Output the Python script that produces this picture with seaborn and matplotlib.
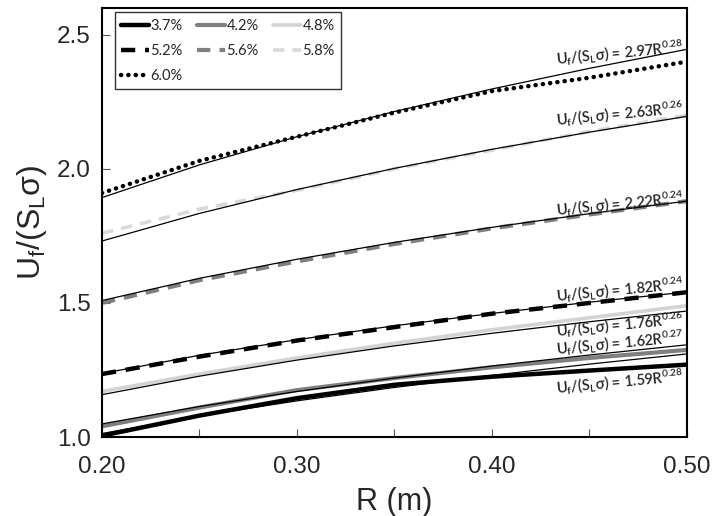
import numpy as np
import pandas as pd
import matplotlib
matplotlib.use("Agg")
import matplotlib.pyplot as plt
import seaborn as sns
from matplotlib.ticker import MultipleLocator, FormatStrFormatter

# radius (m)
R = [0.20, 0.25, 0.30, 0.35, 0.40, 0.45, 0.50]

# measured U_f/(S_L sigma) per H2 concentration
labels = ["3.7%", "4.2%", "4.8%", "5.2%", "5.6%", "5.8%", "6.0%"]
u37 = [1.005, 1.080, 1.145, 1.195, 1.225, 1.248, 1.270]
u42 = [1.040, 1.110, 1.175, 1.220, 1.260, 1.295, 1.325]
u48 = [1.170, 1.235, 1.295, 1.350, 1.400, 1.445, 1.490]
u52 = [1.235, 1.300, 1.360, 1.410, 1.460, 1.500, 1.540]
u56 = [1.500, 1.585, 1.655, 1.720, 1.778, 1.830, 1.880]
u58 = [1.760, 1.850, 1.920, 2.000, 2.070, 2.140, 2.200]
u60 = [1.910, 2.030, 2.120, 2.210, 2.290, 2.340, 2.400]

# power-law fit curves (thin black lines) read along R
fit297 = [1.893, 2.015, 2.120, 2.214, 2.298, 2.375, 2.446]
fit263 = [1.731, 1.834, 1.923, 2.002, 2.073, 2.137, 2.196]
fit222 = [1.509, 1.592, 1.663, 1.726, 1.782, 1.833, 1.880]
fit182 = [1.237, 1.305, 1.363, 1.415, 1.461, 1.503, 1.541]
fit176 = [1.158, 1.227, 1.287, 1.340, 1.387, 1.430, 1.470]
fit162 = [1.049, 1.114, 1.170, 1.220, 1.265, 1.306, 1.344]
fit159 = [1.013, 1.079, 1.135, 1.185, 1.230, 1.272, 1.310]
fit_text = ["2.97R$\\mathregular{^{0.28}}$", "2.63R$\\mathregular{^{0.26}}$",
            "2.22R$\\mathregular{^{0.24}}$", "1.82R$\\mathregular{^{0.24}}$",
            "1.76R$\\mathregular{^{0.26}}$", "1.62R$\\mathregular{^{0.27}}$",
            "1.59R$\\mathregular{^{0.28}}$"]
# baseline height of each equation label at its right end
text_y = [2.434, 2.206, 1.871, 1.551, 1.420, 1.353, 1.206]

sns.set_style("ticks")
plt.rcParams['font.family'] = ['Liberation Sans', 'DejaVu Sans']

fig = plt.figure(figsize=(7.13, 5.16), dpi=100)
ax = fig.add_axes([0.143, 0.153, 0.8205, 0.8315])

series = [u37, u42, u48, u52, u56, u58, u60]
colors = ["black", "#7f7f7f", "#d3d3d3", "black", "#7f7f7f", "#d9d9d9", "black"]
widths = [3.2, 3.0, 2.6, 3.2, 3.0, 2.6, 3.2]
styles = ["-", "-", "-", (0, (3.2, 2.2)), (0, (3.2, 2.2)), (0, (3.2, 2.2)), (0, (0.05, 1.6))]
lines = {}
for lab, vals, c, w, ls in zip(labels, series, colors, widths, styles):
    df = pd.DataFrame({"R": R, "U": vals})
    sns.lineplot(data=df, x="R", y="U", ax=ax, color=c, lw=w, linestyle=ls,
                 dash_capstyle="round" if lab == "6.0%" else "butt")
    lines[lab] = ax.lines[-1]

fits = [fit297, fit263, fit222, fit182, fit176, fit162, fit159]
for f in fits:
    sns.lineplot(x=R, y=f, ax=ax, color="black", lw=0.9)

# fit equation labels
for t, ty in zip(fit_text, text_y):
    ax.text(0.4985, ty, "$\\mathregular{U_f/(S_L}$σ$\\mathregular{)}$ = " + t,
            ha="right", va="baseline", rotation=5.5, rotation_mode="anchor",
            fontsize=10.5, fontweight="semibold", family=["Lato", "DejaVu Sans"])

order = ["3.7%", "5.2%", "6.0%", "4.2%", "5.6%", "4.8%", "5.8%"]
leg = ax.legend([lines[k] for k in order], order, ncol=3, loc="upper left",
                bbox_to_anchor=(0.022, 0.99), frameon=True, fancybox=False,
                edgecolor="black", handlelength=1.9,
                handletextpad=0.1, columnspacing=1.0, labelspacing=0.75,
                borderpad=0.45, borderaxespad=0,
                prop={"family": ["Lato", "DejaVu Sans"], "size": 10.5})
leg.get_frame().set_linewidth(1.0)

ax.set_xlim(0.20, 0.50)
ax.set_ylim(1.0, 2.6)
ax.xaxis.set_major_locator(MultipleLocator(0.1))
ax.xaxis.set_minor_locator(MultipleLocator(0.05))
ax.yaxis.set_major_locator(MultipleLocator(0.5))
ax.xaxis.set_major_formatter(FormatStrFormatter("%.2f"))
ax.yaxis.set_major_formatter(FormatStrFormatter("%.1f"))
ax.tick_params(which="both", direction="in", length=6, width=0.8, color="#555555",
               labelsize=17.5)
ax.tick_params(axis="x", which="both", pad=14)
ax.tick_params(axis="y", which="both", pad=8)
for s in ax.spines.values():
    s.set_linewidth(1.5)
    s.set_color("black")
    s.set_visible(True)

ax.set_xlabel("R (m)", fontsize=22, labelpad=6)
ax.set_ylabel("U$\\mathregular{_f}$/(S$\\mathregular{_L}$σ)", fontsize=23, labelpad=6)

fig.savefig("out.png", dpi=100)
